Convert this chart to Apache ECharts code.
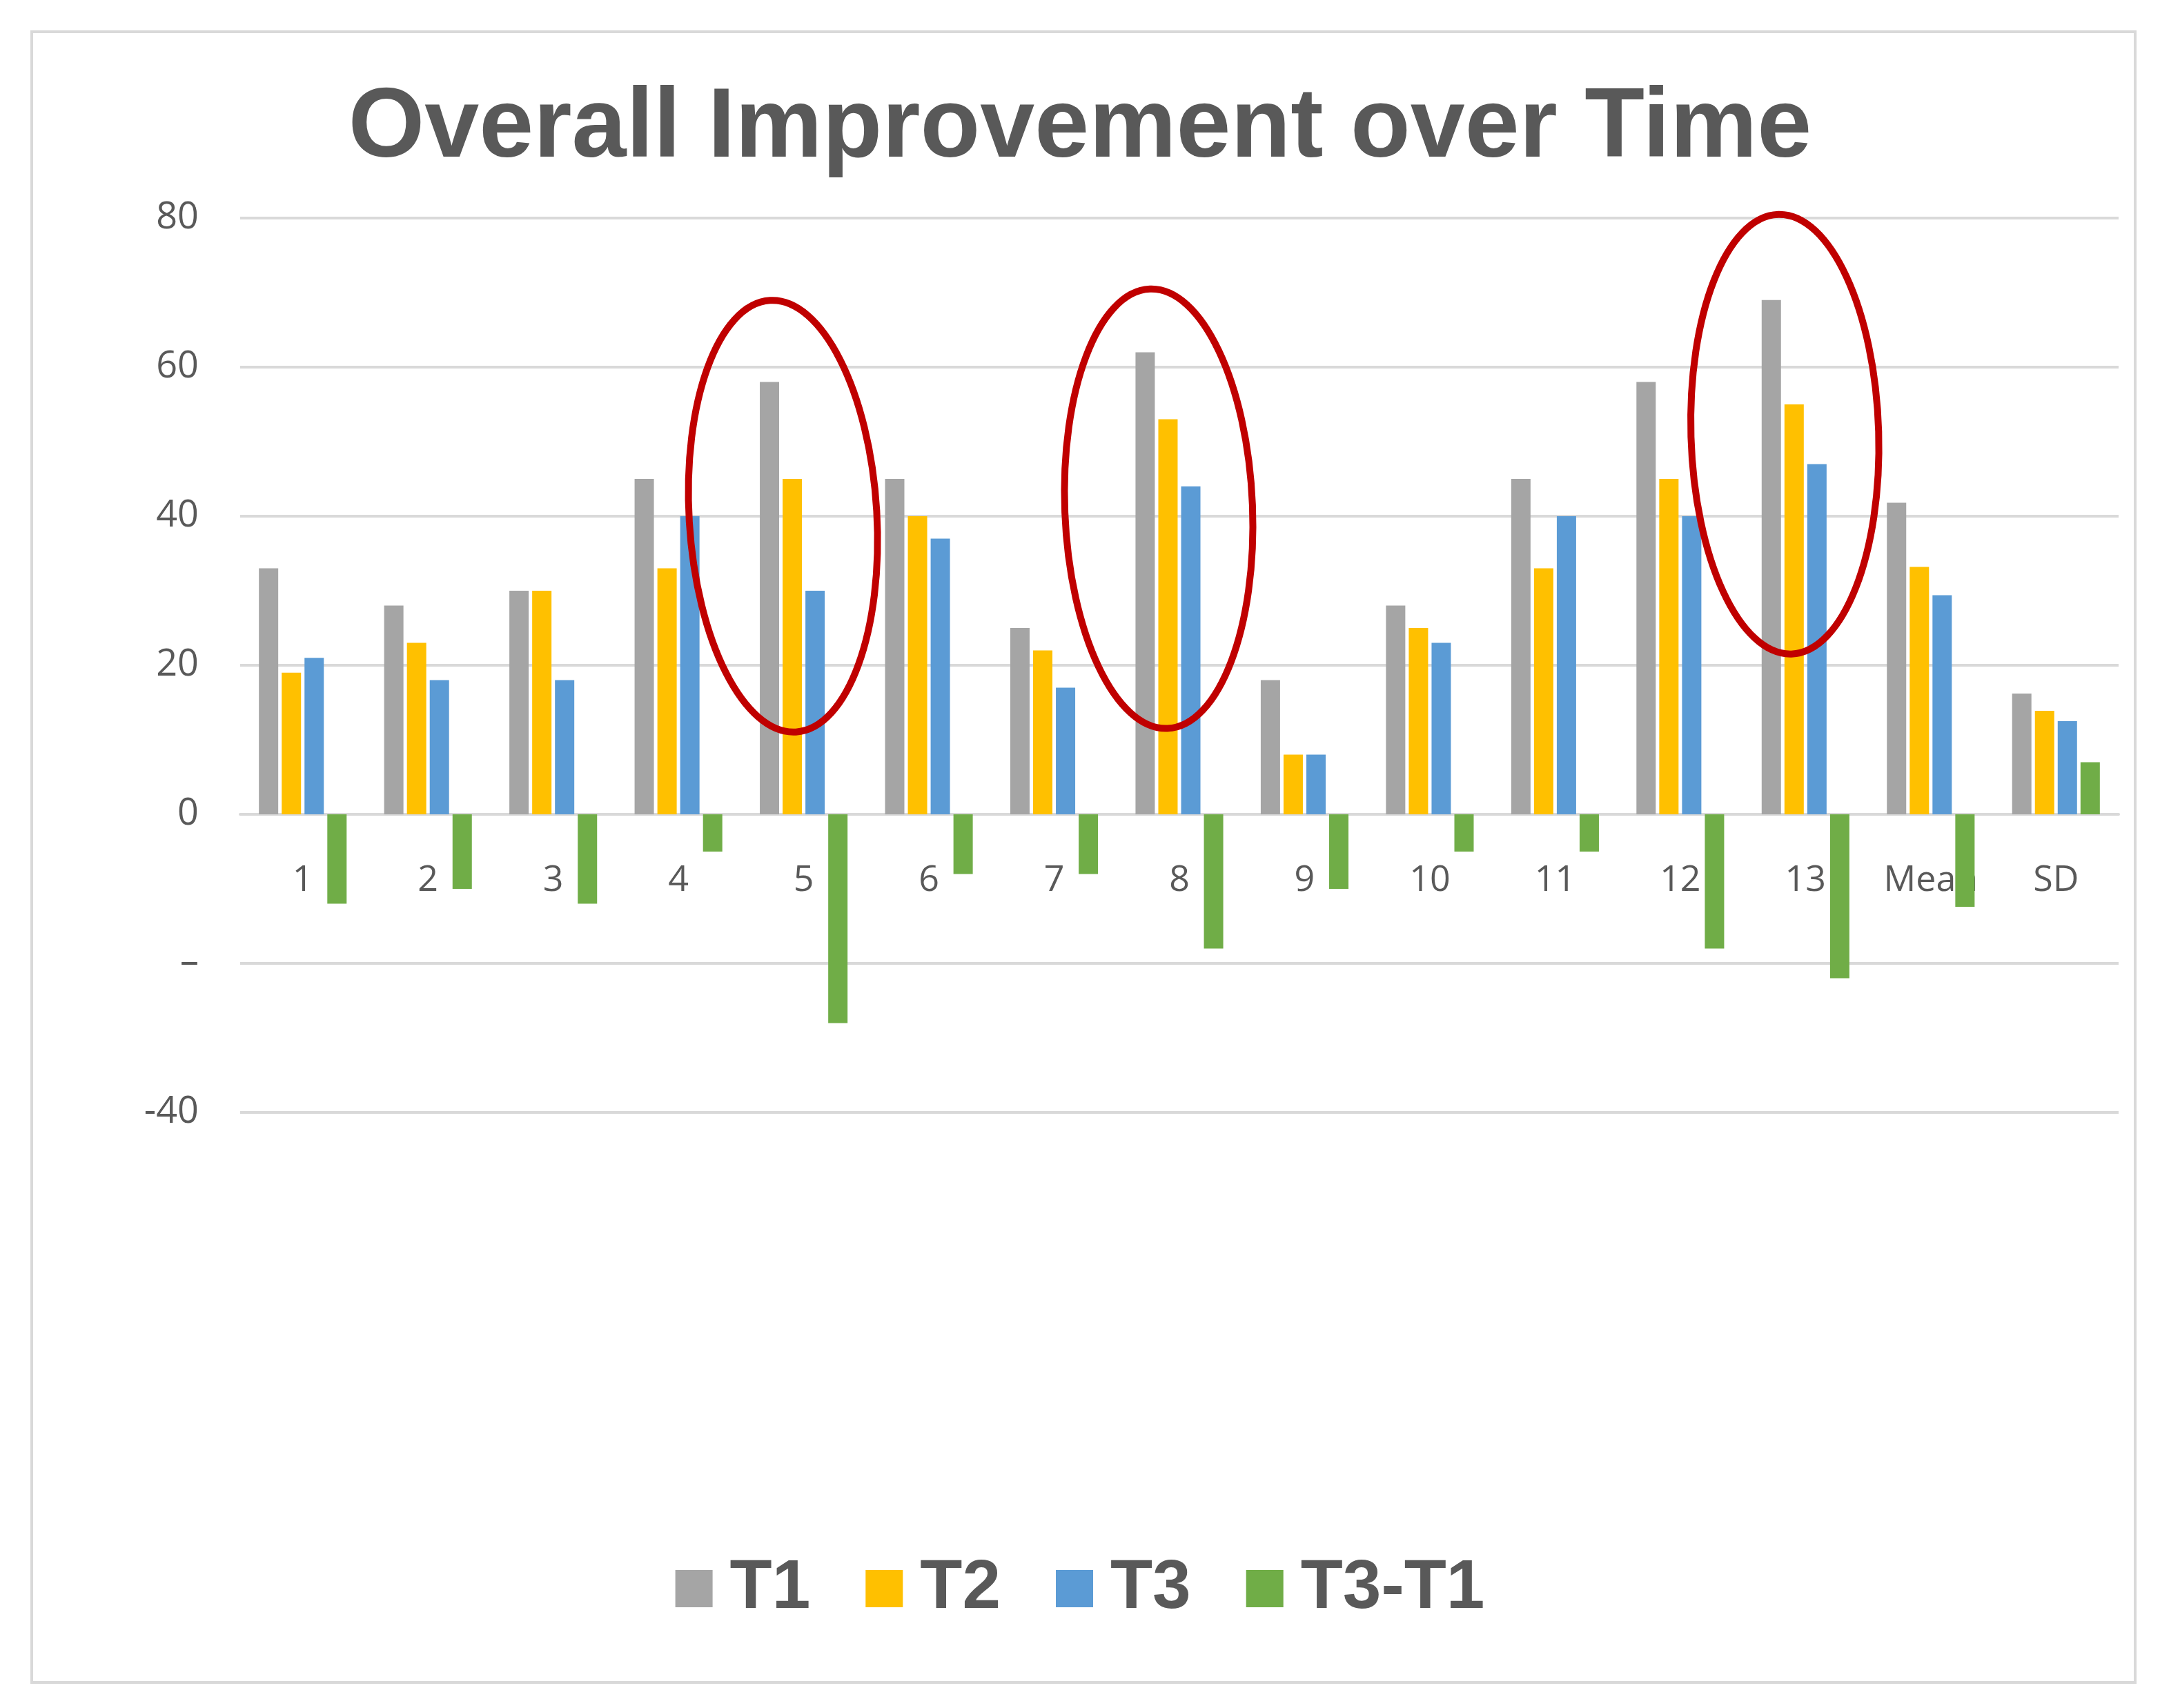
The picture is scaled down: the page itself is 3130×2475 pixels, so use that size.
<!DOCTYPE html>
<html>
<head>
<meta charset="utf-8">
<script src="https://cdn.jsdelivr.net/npm/echarts@6/dist/echarts.min.js"></script>
<style>
html,body{margin:0;padding:0;background:#fff;}
#frame{position:absolute;left:44px;top:44px;width:3044px;height:2388px;border:4px solid #d9d9d9;}
#main{position:absolute;left:0;top:0;width:3130px;height:2475px;}
</style>
</head>
<body>
<div id="frame"></div>
<div id="main"></div>
<script>
var categories = ['1','2','3','4','5','6','7','8','9','10','11','12','13','Mean','SD'];
var t1 = [33, 28, 30, 45, 58, 45, 25, 62, 18, 28, 45, 58, 69, 41.8, 16.2];
var t2 = [19, 23, 30, 33, 45, 40, 22, 53, 8, 25, 33, 45, 55, 33.2, 13.9];
var t3 = [21, 18, 18, 40, 30, 37, 17, 44, 8, 23, 40, 40, 47, 29.4, 12.5];
var diff = [-12, -10, -12, -5, -28, -8, -8, -18, -10, -5, -5, -18, -22, -12.4, 7];
// highlighted groups: [category, centre value, half-height in value units, tilt]
var circled = [['5', 40, 29, 0.06], ['8', 41, 29.5, 0.04], ['13', 51, 29.5, 0.03]];

var chart = echarts.init(document.getElementById('main'));

function barSeries(name, data, color) {
    return {
        name: name,
        type: 'bar',
        data: data,
        barWidth: 28,
        barGap: '18%',
        itemStyle: {color: color}
    };
}

var option = {
    animation: false,
    title: {
        text: 'Overall Improvement over Time',
        left: 'center',
        top: 112,
        textStyle: {fontFamily: 'Liberation Sans', fontWeight: 'bold', fontSize: 142, color: '#595959'}
    },
    legend: {
        bottom: 118,
        left: 'center',
        itemWidth: 54,
        itemHeight: 54,
        itemGap: 80,
        icon: 'rect',
        textStyle: {fontFamily: 'Liberation Sans', fontWeight: 'bold', fontSize: 100, color: '#595959', padding: [0, 0, 0, 20]}
    },
    grid: {left: 348, right: 60, top: 316, bottom: 863},
    xAxis: {
        type: 'category',
        data: categories,
        axisLine: {show: true, onZero: true, lineStyle: {color: '#d9d9d9', width: 4}},
        axisTick: {show: false},
        axisLabel: {margin: -362, fontFamily: 'Open Sans', fontSize: 52, color: '#595959'}
    },
    yAxis: {
        type: 'value',
        min: -40,
        max: 80,
        interval: 20,
        axisLine: {show: false},
        axisTick: {show: false},
        splitLine: {lineStyle: {color: '#d9d9d9', width: 4}},
        axisLabel: {
            fontFamily: 'Open Sans', fontSize: 54, color: '#595959', margin: 60,
            formatter: function (v) { return v === -20 ? '–' : String(v); }
        }
    },
    series: [
        barSeries('T1', t1, '#a5a5a5'),
        barSeries('T2', t2, '#ffc000'),
        barSeries('T3', t3, '#5b9bd5'),
        barSeries('T3-T1', diff, '#70ad47')
    ]
};
chart.setOption(option);

// red ellipses around the highlighted groups
var ellipses = circled.map(function (c) {
    var centre = chart.convertToPixel({gridIndex: 0}, [c[0], c[1]]);
    var top = chart.convertToPixel({gridIndex: 0}, [c[0], c[1] + c[2]]);
    var ry = centre[1] - top[1];
    return {
        type: 'ellipse',
        x: centre[0] - 30,
        y: centre[1],
        rotation: c[3],
        shape: {cx: 0, cy: 0, rx: 136, ry: ry},
        style: {fill: null, stroke: '#c00000', lineWidth: 10},
        z: 100
    };
});
chart.setOption({graphic: ellipses});
</script>
</body>
</html>
